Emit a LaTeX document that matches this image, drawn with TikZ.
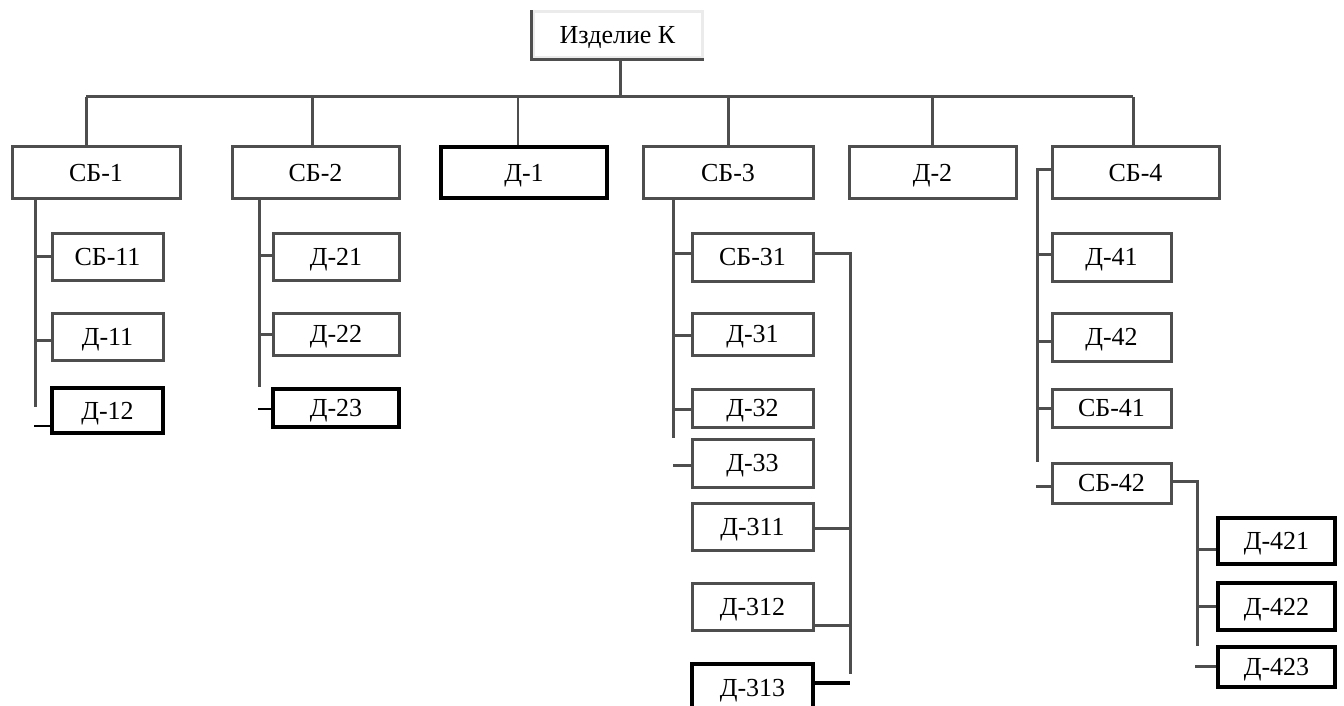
\documentclass[tikz,border=0pt]{standalone}
\usepackage{fontspec}
\setmainfont{Liberation Serif}
\usepackage{xcolor}
\usepackage{tikz}
\usetikzlibrary{positioning}
\definecolor{linegray}{RGB}{78,78,78}

\begin{document}
\begin{tikzpicture}[x=1pt, y=-1pt,
    part/.style={draw=linegray, line width=3pt, inner sep=0pt, text height=17pt, text depth=0pt, font=\fontsize{26}{30}\selectfont},
    partdark/.style={part, draw=black, line width=3.2pt},
    link/.style={draw=linegray, line width=3pt},
    linkdark/.style={draw=black, line width=3.6pt}]
            \useasboundingbox (0,0) rectangle (1344,706);
            \clip (0,0) rectangle (1344,706);
            % Define node for the product
            \node[part, draw=black!8, minimum width=169pt, minimum height=46pt] (product) at (617.5, 35) {Изделие К};
            \draw[link] (product.north west) -- (product.south west) -- (product.south east);
            % Define nodes for the first level
            \node[part, minimum width=168pt, minimum height=51pt] (sb-1) at (96, 172.5) {СБ-1};
            \node[part, minimum width=167pt, minimum height=51pt] (sb-2) at (315.5, 172.5) {СБ-2};
            \node[partdark, minimum width=166pt, minimum height=51pt] (d-1) at (524, 172.5) {Д-1};
            \node[part, minimum width=170pt, minimum height=51pt] (sb-3) at (728, 172.5) {СБ-3};
            \node[part, minimum width=167pt, minimum height=51pt] (d-2) at (932.5, 172.5) {Д-2};
            \node[part, minimum width=167pt, minimum height=51pt] (sb-4) at (1135.5, 172.5) {СБ-4};
            % Define nodes under СБ-1 and СБ-2
            \node[part, minimum width=111pt, minimum height=47pt] (sb-11) at (107.5, 256.5) {СБ-11};
            \node[part, minimum width=111pt, minimum height=47pt] (d-11) at (107.5, 336.5) {Д-11};
            \node[partdark, minimum width=111pt, minimum height=45pt] (d-12) at (107.5, 410.5) {Д-12};
            \node[part, minimum width=126pt, minimum height=47pt] (d-21) at (336, 256.5) {Д-21};
            \node[part, minimum width=126pt, minimum height=42pt] (d-22) at (336, 334) {Д-22};
            \node[partdark, minimum width=126pt, minimum height=38pt] (d-23) at (336, 408) {Д-23};
            % Define nodes under СБ-3
            \node[part, minimum width=121pt, minimum height=48pt] (sb-31) at (752.5, 257) {СБ-31};
            \node[part, minimum width=121pt, minimum height=42pt] (d-31) at (752.5, 334) {Д-31};
            \node[part, minimum width=121pt, minimum height=38pt] (d-32) at (752.5, 408) {Д-32};
            \node[part, minimum width=121pt, minimum height=48pt] (d-33) at (752.5, 463) {Д-33};
            \node[part, minimum width=121pt, minimum height=47pt] (d-311) at (752.5, 526.5) {Д-311};
            \node[part, minimum width=121pt, minimum height=47pt] (d-312) at (752.5, 606.5) {Д-312};
            \node[partdark, minimum width=121pt, minimum height=48pt] (d-313) at (752.5, 688) {Д-313};
            % Define nodes under СБ-4
            \node[part, minimum width=119pt, minimum height=48pt] (d-41) at (1111.5, 257) {Д-41};
            \node[part, minimum width=119pt, minimum height=48pt] (d-42) at (1111.5, 337) {Д-42};
            \node[part, minimum width=119pt, minimum height=38pt] (sb-41) at (1111.5, 408) {СБ-41};
            \node[part, minimum width=119pt, minimum height=40pt] (sb-42) at (1111.5, 483) {СБ-42};
            \node[partdark, minimum width=117pt, minimum height=46pt] (d-421) at (1276.5, 541) {Д-421};
            \node[partdark, minimum width=117pt, minimum height=47pt] (d-422) at (1276.5, 606.5) {Д-422};
            \node[partdark, minimum width=117pt, minimum height=40pt] (d-423) at (1276.5, 667) {Д-423};
            % Bus and stems
            \coordinate (bus) at (620, 97);
            \draw[link] ([xshift=2.5pt]product.south) -- ([xshift=2.5pt]product.south |- bus);
            \draw[link] ([xshift=-10pt]sb-1.north |- bus) -- ([xshift=-2.5pt]sb-4.north |- bus);
            \draw[link] ([xshift=-10pt]sb-1.north) -- ([xshift=-10pt]sb-1.north |- bus);
            \draw[link] ([xshift=-3.5pt]sb-2.north) -- ([xshift=-3.5pt]sb-2.north |- bus);
            \draw[link, line width=1.8pt] ([xshift=-6pt]d-1.north) -- ([xshift=-6pt]d-1.north |- bus);
            \draw[link] (sb-3.north) -- (sb-3.north |- bus);
            \draw[link] (d-2.north) -- (d-2.north |- bus);
            \draw[link] ([xshift=-2.5pt]sb-4.north) -- ([xshift=-2.5pt]sb-4.north |- bus);
            % Branches of СБ-1
            \coordinate (sp-1) at (35, 407);
            \draw[link] (sb-1.south -| sp-1) -- (sp-1);
            \draw[link] (sb-11.west) -- (sb-11.west -| sp-1);
            \draw[link] ([yshift=-3.5pt]d-11.west) -- ([yshift=-3.5pt]d-11.west -| sp-1);
            \draw[linkdark, line width=2pt] ([yshift=-15.5pt]d-12.west) -- ++(-16, 0);
            % Branches of СБ-2
            \coordinate (sp-2) at (259, 387);
            \draw[link] (sb-2.south -| sp-2) -- (sp-2);
            \draw[link] ([yshift=1.5pt]d-21.west) -- ([yshift=1.5pt]d-21.west -| sp-2);
            \draw[link] (d-22.west) -- (d-22.west -| sp-2);
            \draw[linkdark, line width=2pt] ([yshift=-1pt]d-23.west) -- ++(-13, 0);
            % Branches of СБ-3
            \coordinate (sp-3) at (673, 438);
            \draw[link] (sb-3.south -| sp-3) -- (sp-3);
            \draw[link] ([yshift=4pt]sb-31.west) -- ([yshift=4pt]sb-31.west -| sp-3);
            \draw[link] ([yshift=-1pt]d-31.west) -- ([yshift=-1pt]d-31.west -| sp-3);
            \draw[link] ([yshift=-1pt]d-32.west) -- ([yshift=-1pt]d-32.west -| sp-3);
            \draw[link] ([yshift=-2pt]d-33.west) -- ([yshift=-2pt]d-33.west -| sp-3);
            \coordinate (sp-31) at (850, 674);
            \draw[link] ([yshift=4pt]sb-31.east) -| (sp-31);
            \draw[link] ([yshift=-1.5pt]d-311.east) -- ([yshift=-1.5pt]d-311.east -| sp-31);
            \draw[link] ([yshift=-18.5pt]d-312.east) -- ([yshift=-18.5pt]d-312.east -| sp-31);
            \draw[linkdark] ([yshift=5pt]d-313.east) -- ([yshift=5pt]d-313.east -| sp-31);
            % Branches of СБ-4
            \coordinate (sp-4) at (1037, 462);
            \draw[link] ([yshift=3.5pt]sb-4.west) -| (sp-4);
            \draw[link] ([yshift=3pt]d-41.west) -- ([yshift=3pt]d-41.west -| sp-4);
            \draw[link] ([yshift=-4pt]d-42.west) -- ([yshift=-4pt]d-42.west -| sp-4);
            \draw[link] (sb-41.west) -- (sb-41.west -| sp-4);
            \draw[link] ([yshift=-3pt]sb-42.west) -- ++(-15, 0);
            \coordinate (sp-42) at (1197, 646);
            \draw[link] ([yshift=2pt]sb-42.east) -| (sp-42);
            \draw[link] ([yshift=-8pt]d-421.west) -- ([yshift=-8pt]d-421.west -| sp-42);
            \draw[link] (d-422.west) -- (d-422.west -| sp-42);
            \draw[link] ([yshift=1pt]d-423.west) -- ++(-21, 0);
        \end{tikzpicture}
\end{document}
